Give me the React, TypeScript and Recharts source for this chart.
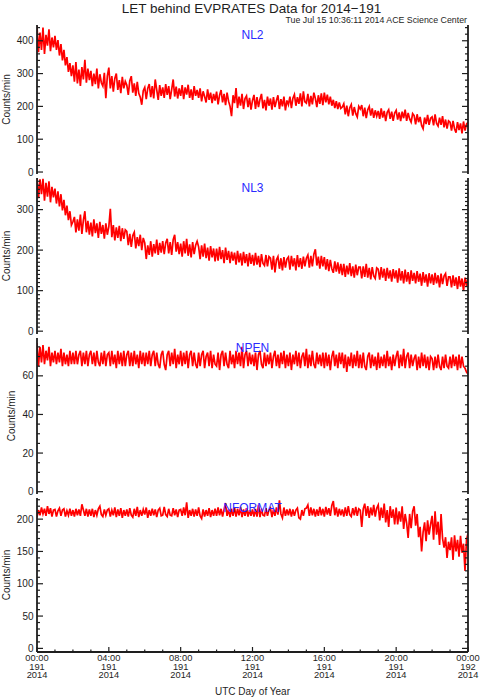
import { LineChart, Line, XAxis, YAxis } from 'recharts'

// sample spacing of the series below, in minutes (00:00 day 191 -> 00:00 day 192)
const STEP_MIN = 5

// one row per hour, 12 samples each
const nl2 = [
  445, 365, 425, 372, 440, 360, 418, 385, 435, 368, 410, 380,
  415, 372, 402, 355, 390, 340, 372, 325, 350, 305, 332, 292,
  325, 275, 335, 270, 312, 262, 320, 282, 342, 272, 315, 280,
  308, 262, 300, 268, 315, 255, 298, 272, 262, 302, 225, 292,
  318, 255, 292, 245, 285, 300, 250, 280, 240, 290, 255, 276,
  265, 235, 278, 292, 242, 270, 232, 275, 240, 228, 205, 248,
  258, 222, 255, 268, 228, 262, 224, 282, 250, 220, 265, 232,
  258, 226, 268, 235, 262, 222, 252, 282, 230, 260, 224, 255,
  232, 265, 222, 258, 236, 266, 226, 252, 220, 262, 232, 250,
  226, 255, 215, 246, 230, 212, 252, 220, 242, 210, 238, 218,
  245, 206, 234, 250, 212, 238, 204, 242, 216, 200, 170, 234,
  210, 256, 195, 230, 202, 238, 192, 224, 232, 198, 226, 190,
  218, 235, 192, 228, 198, 222, 238, 194, 220, 188, 230, 202,
  224, 190, 228, 198, 218, 234, 192, 222, 200, 230, 188, 218,
  205, 230, 195, 225, 236, 202, 228, 208, 240, 200, 246, 214,
  210, 238, 200, 232, 206, 242, 224, 198, 234, 208, 240, 204,
  242, 212, 236, 206, 230, 202, 220, 195, 216, 192, 212, 194,
  198, 208, 176, 202, 170, 196, 206, 172, 198, 178, 168, 200,
  192, 204, 170, 196, 164, 190, 200, 172, 194, 165, 188, 170,
  186, 162, 194, 166, 186, 155, 182, 190, 162, 184, 156, 180,
  188, 160, 182, 155, 184, 164, 190, 156, 180, 162, 152, 178,
  172, 145, 176, 152, 168, 142, 132, 166, 146, 174, 144, 164,
  168, 142, 176, 148, 140, 166, 144, 170, 136, 160, 132, 156,
  152, 126, 156, 132, 120, 152, 128, 148, 118, 154, 126, 146,
  152,
]

const nl3 = [
  378, 328, 375, 338, 376, 322, 366, 332, 370, 318, 356, 330,
  352, 315, 345, 308, 338, 298, 324, 286, 310, 274, 296, 262,
  270, 282, 244, 276, 248, 288, 240, 274, 296, 244, 272, 238,
  268, 234, 276, 242, 266, 230, 270, 240, 262, 228, 266, 238,
  258, 302, 232, 262, 224, 256, 230, 260, 222, 254, 228, 250,
  246, 212, 240, 208, 236, 244, 204, 232, 210, 238, 200, 230,
  218, 178, 212, 188, 222, 184, 215, 192, 226, 188, 218, 194,
  222, 190, 218, 228, 192, 220, 188, 226, 238, 196, 220, 190,
  216, 184, 222, 192, 228, 186, 214, 182, 220, 190, 212, 222,
  208, 178, 212, 184, 216, 180, 206, 174, 210, 182, 204, 172,
  204, 174, 208, 178, 200, 168, 206, 176, 198, 168, 196, 174,
  194, 164, 198, 170, 192, 162, 196, 168, 190, 160, 193, 166,
  188, 162, 193, 164, 186, 158, 190, 167, 162, 188, 160, 184,
  180, 152, 186, 145, 176, 184, 154, 180, 150, 183, 157, 178,
  183, 152, 186, 160, 180, 150, 188, 158, 180, 154, 184, 160,
  180, 188, 157, 186, 160, 190, 202, 162, 184, 154, 186, 160,
  183, 152, 178, 148, 176, 154, 144, 172, 147, 170, 142, 166,
  138, 166, 134, 162, 140, 168, 136, 160, 132, 164, 138, 158,
  158, 130, 160, 134, 166, 132, 156, 128, 158, 136, 130, 156,
  153, 127, 158, 132, 154, 124, 156, 130, 150, 122, 153, 130,
  150, 120, 155, 125, 148, 118, 152, 122, 146, 116, 150, 124,
  144, 118, 148, 122, 142, 112, 146, 120, 140, 110, 143, 118,
  140, 114, 144, 118, 138, 108, 142, 116, 136, 142, 112, 134,
  134, 108, 138, 112, 133, 104, 136, 110, 130, 100, 132, 112,
  132,
]

const npen = [
  77, 65, 75, 67, 76, 66, 73, 68, 75, 65, 72, 67,
  73, 66, 72, 67, 74, 65, 72, 66, 71, 65, 73, 66,
  72, 66, 73, 66, 71, 73, 65, 72, 66, 73, 65, 71,
  73, 66, 72, 65, 73, 67, 65, 72, 66, 73, 65, 71,
  72, 65, 73, 66, 71, 64, 73, 66, 72, 65, 73, 65,
  71, 73, 65, 72, 65, 73, 66, 71, 64, 73, 66, 72,
  65, 72, 66, 73, 65, 71, 73, 65, 72, 66, 64, 71,
  73, 66, 63, 71, 73, 65, 72, 66, 74, 64, 71, 66,
  73, 65, 72, 66, 73, 64, 71, 73, 65, 72, 66, 64,
  72, 65, 71, 73, 64, 70, 72, 65, 73, 64, 71, 66,
  65, 72, 63, 71, 73, 65, 72, 66, 64, 73, 66, 71,
  64, 73, 66, 72, 65, 75, 64, 71, 73, 65, 72, 66,
  71, 65, 72, 63, 71, 73, 66, 64, 72, 65, 71, 66,
  72, 64, 70, 73, 65, 71, 64, 72, 66, 73, 64, 71,
  65, 72, 63, 71, 66, 73, 65, 72, 64, 70, 72, 65,
  74, 64, 71, 65, 73, 66, 64, 72, 66, 71, 65, 72,
  64, 72, 65, 71, 63, 70, 73, 65, 71, 64, 72, 66,
  72, 64, 71, 62, 70, 65, 72, 64, 71, 65, 73, 64,
  71, 64, 72, 65, 63, 70, 72, 64, 71, 65, 70, 63,
  72, 64, 70, 65, 71, 64, 73, 65, 70, 63, 71, 65,
  70, 73, 64, 71, 65, 74, 64, 70, 72, 64, 71, 65,
  69, 71, 63, 70, 64, 72, 65, 71, 64, 70, 63, 70,
  69, 63, 70, 64, 71, 65, 63, 70, 64, 71, 65, 64,
  70, 64, 71, 65, 70, 63, 71, 64, 70, 65, 64, 62,
  61,
]

const nformat = [
  203, 214, 206, 218, 208, 216, 205, 220, 208, 217, 204, 214,
  215, 204, 213, 217, 205, 214, 216, 204, 213, 206, 216, 205,
  214, 204, 216, 206, 215, 205, 223, 214, 205, 216, 204, 215,
  205, 216, 203, 214, 206, 216, 220, 207, 204, 215, 206, 214,
  216, 204, 214, 206, 218, 203, 215, 205, 217, 202, 214, 205,
  215, 204, 217, 206, 203, 216, 205, 219, 203, 214, 205, 215,
  207, 218, 202, 214, 205, 216, 206, 215, 203, 214, 217, 205,
  206, 219, 207, 204, 216, 206, 205, 217, 206, 215, 203, 214,
  215, 205, 218, 206, 226, 202, 214, 205, 216, 204, 215, 205,
  218, 205, 201, 215, 204, 214, 205, 217, 203, 214, 205, 216,
  205, 218, 206, 216, 204, 215, 225, 205, 215, 203, 216, 205,
  218, 204, 216, 206, 219, 203, 215, 205, 217, 204, 214, 205,
  215, 204, 216, 204, 222, 203, 216, 206, 205, 217, 205, 214,
  217, 203, 215, 205, 218, 207, 229, 208, 202, 218, 205, 215,
  206, 216, 204, 215, 205, 214, 217, 202, 200, 214, 205, 216,
  217, 222, 205, 218, 206, 216, 204, 215, 205, 219, 206, 216,
  204, 219, 207, 217, 205, 221, 228, 206, 218, 204, 216, 206,
  215, 204, 218, 205, 220, 207, 204, 217, 206, 219, 205, 216,
  214, 188, 216, 224, 205, 220, 202, 218, 206, 222, 204, 217,
  222, 198, 218, 202, 224, 195, 214, 188, 220, 202, 215, 192,
  218, 192, 212, 196, 220, 185, 208, 194, 171, 208, 186, 212,
  220, 190, 208, 172, 188, 150, 180, 195, 166, 198, 176, 192,
  205, 168, 212, 176, 196, 160, 208, 170, 156, 172, 140, 165,
  152, 172, 137, 175, 150, 168, 142, 174, 148, 162, 120, 168,
  178,
]

const hourTicks = [0, 240, 480, 720, 960, 1200, 1440]
const hourLabels = ['00:00', '04:00', '08:00', '12:00', '16:00', '20:00', '00:00']
const dayLabels = ['191', '191', '191', '191', '191', '191', '192']
const yearLabels = ['2014', '2014', '2014', '2014', '2014', '2014', '2014']

const FONT = '"Liberation Sans", Arial, Helvetica, sans-serif'
const INK = '#1e1e1e'
const W = 481
const LEFT = 37
const RIGHT = 468

const minuteTicks: number[] = []
for (let m = 0; m <= 1440; m += 60) minuteTicks.push(m)

const stepTicks = (step: number, max: number) => {
  const out: number[] = []
  for (let v = 0; v <= max; v += step) out.push(v)
  return out
}

type PanelProps = {
  values: number[]
  domain: [number, number]
  majors: number[]
  minorStep: number
  top: number
  bottom: number
  timeLabels?: boolean
}

function Panel({ values, domain, majors, minorStep, top, bottom, timeLabels }: PanelProps) {
  const rows = values.map((v, i) => ({ t: i * STEP_MIN, v }))
  const yTicks = stepTicks(minorStep, domain[1])
  const bottomH = timeLabels ? 48 : 0
  const isMajorY = (v: number) => majors.includes(v)
  const isMajorX = (v: number) => hourTicks.includes(v)

  const leftTick = ({ x, y, payload }: any) => (
    <g>
      <line x1={x} x2={x + (isMajorY(payload.value) ? 6 : 3)} y1={y} y2={y} stroke={INK} strokeWidth={1.2} />
      {isMajorY(payload.value) && (
        <text x={x - 3.5} y={y + 3.6} textAnchor="end" fontSize={10} fontFamily={FONT} fill={INK}>
          {payload.value}
        </text>
      )}
    </g>
  )
  const rightTick = ({ x, y, payload }: any) => (
    <line x1={x} x2={x - (isMajorY(payload.value) ? 6 : 3)} y1={y} y2={y} stroke={INK} strokeWidth={1.2} />
  )
  const topTick = ({ x, y, payload }: any) => (
    <line x1={x} x2={x} y1={y} y2={y + (isMajorX(payload.value) ? 5 : 2.5)} stroke={INK} strokeWidth={1.2} />
  )
  const bottomTick = ({ x, y, payload }: any) => {
    const k = hourTicks.indexOf(payload.value)
    return (
      <g>
        <line x1={x} x2={x} y1={y} y2={y - (k >= 0 ? 5 : 2.5)} stroke={INK} strokeWidth={1.2} />
        {timeLabels && k >= 0 && (
          <text textAnchor="middle" fontSize={9.3} fontFamily={FONT} fill={INK}>
            <tspan x={x} y={y + 9}>{hourLabels[k]}</tspan>
            <tspan x={x} y={y + 17.7}>{dayLabels[k]}</tspan>
            <tspan x={x} y={y + 26.4}>{yearLabels[k]}</tspan>
          </text>
        )}
      </g>
    )
  }

  const frame = { stroke: INK, strokeWidth: 1.8 }

  return (
    <div style={{ position: 'absolute', left: 0, top: top - 4 }}>
      <LineChart
        width={W}
        height={bottom - top + 4 + (timeLabels ? bottomH : 4)}
        data={rows}
        margin={{ top: 4, right: 0, bottom: timeLabels ? 0 : 4, left: 0 }}
      >
        <XAxis xAxisId="b" dataKey="t" type="number" domain={[0, 1440]} allowDataOverflow ticks={minuteTicks}
          interval={0} height={bottomH} tickSize={0} tickMargin={0} tickLine={false} axisLine={frame} tick={bottomTick} />
        <XAxis xAxisId="t" orientation="top" dataKey="t" type="number" domain={[0, 1440]} allowDataOverflow
          ticks={minuteTicks} interval={0} height={0} tickSize={0} tickMargin={0} tickLine={false} axisLine={frame} tick={topTick} />
        <YAxis yAxisId="l" type="number" domain={domain} allowDataOverflow ticks={yTicks} interval={0}
          width={LEFT} tickSize={0} tickMargin={0} tickLine={false} axisLine={frame} tick={leftTick} />
        <YAxis yAxisId="r" orientation="right" type="number" domain={domain} allowDataOverflow ticks={yTicks}
          interval={0} width={W - RIGHT} tickSize={0} tickMargin={0} tickLine={false} axisLine={frame} tick={rightTick} />
        <Line xAxisId="t" yAxisId="r" dataKey="v" stroke="none" dot={false} activeDot={false} isAnimationActive={false} />
        <Line xAxisId="b" yAxisId="l" type="linear" dataKey="v" stroke="#ff0000" strokeWidth={1.7}
          dot={false} activeDot={false} isAnimationActive={false} />
      </LineChart>
    </div>
  )
}

const panels = [
  { name: 'NL2', values: nl2, domain: [-6, 448] as [number, number], majors: [0, 100, 200, 300, 400], minorStep: 20, top: 25, bottom: 174, titleX: 10 },
  { name: 'NL3', values: nl3, domain: [-7, 378] as [number, number], majors: [0, 100, 200, 300], minorStep: 10, top: 178, bottom: 334, titleX: 10 },
  { name: 'NPEN', values: npen, domain: [-1.2, 79.6] as [number, number], majors: [0, 20, 40, 60], minorStep: 5, top: 338, bottom: 494, titleX: 15 },
  { name: 'NFORMAT', values: nformat, domain: [-5.6, 232.7] as [number, number], majors: [0, 50, 100, 150, 200], minorStep: 10, top: 498, bottom: 652, titleX: 10 },
]

export default function App() {
  const mid = (LEFT + RIGHT) / 2
  return (
    <div style={{ position: 'absolute', left: 0, top: 0, width: W, height: 700, background: '#fff' }}>
      {panels.map((p, i) => (
        <Panel key={p.name} values={p.values} domain={p.domain} majors={p.majors} minorStep={p.minorStep}
          top={p.top} bottom={p.bottom} timeLabels={i === panels.length - 1} />
      ))}
      <svg width={W} height={700} style={{ position: 'absolute', left: 0, top: 0, pointerEvents: 'none' }} fontFamily={FONT}>
        <text x={251.5} y={12.5} textAnchor="middle" fontSize={13.5} fill={INK}>LET behind EVPRATES Data for 2014−191</text>
        <text x={467} y={22.5} textAnchor="end" fontSize={8.8} fill={INK}>Tue Jul 15 10:36:11 2014 ACE Science Center</text>
        {panels.map((p) => (
          <g key={p.name}>
            <text x={mid} y={p.top + 14} textAnchor="middle" fontSize={12} fill="#2a2aff">{p.name}</text>
            <text transform={`translate(${p.titleX},${(p.top + p.bottom) / 2}) rotate(-90)`} textAnchor="middle"
              fontSize={10} fill={INK}>Counts/min</text>
          </g>
        ))}
        <text x={mid} y={695} textAnchor="middle" fontSize={10} fill={INK}>UTC Day of Year</text>
      </svg>
    </div>
  )
}
